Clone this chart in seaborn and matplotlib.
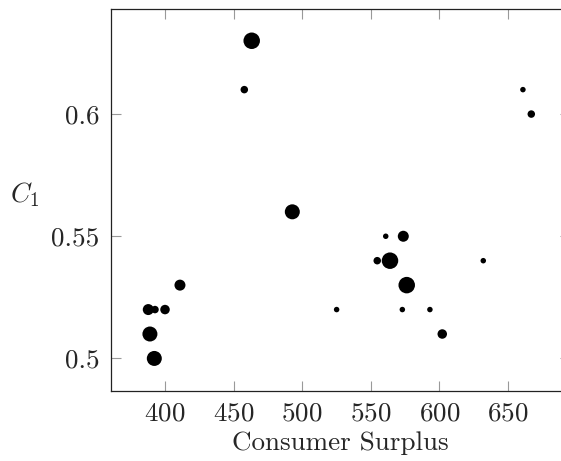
import numpy as np, pandas as pd
import matplotlib as mpl; mpl.use("Agg")
import matplotlib.pyplot as plt
import seaborn as sns
from matplotlib.ticker import FuncFormatter

# consumer surplus (x), C_1 (y) and point weight class (drawn as marker size)
surplus = [463.2, 457.8, 660.9, 667.0, 492.8, 560.9, 573.7, 554.7, 564.0, 632.0, 576.2,
           410.9, 387.8, 392.7, 400.0, 525.1, 573.0, 593.1, 389.0, 602.1, 392.2]
c1 = [0.63, 0.61, 0.61, 0.60, 0.56, 0.55, 0.55, 0.54, 0.54, 0.54, 0.53,
      0.53, 0.52, 0.52, 0.52, 0.52, 0.52, 0.52, 0.51, 0.51, 0.50]
weight = [6, 2, 1, 2, 5, 1, 4, 2, 6, 1, 6,
          4, 4, 2, 3, 1, 1, 1, 5, 3, 5]
xticks = [400, 450, 500, 550, 600, 650]
yticks = [0.5, 0.55, 0.6]

# marker diameter in px per weight class -> area in pt^2
DIAM = {1: 5.5, 2: 7.5, 3: 9.5, 4: 11.0, 5: 15.0, 6: 16.5}
SIZES = {k: (0.72 * d) ** 2 for k, d in DIAM.items()}

sns.set_theme(style="ticks")
mpl.rcParams.update({"font.family": "serif", "font.serif": ["cmr10"], "mathtext.fontset": "cm",
                     "axes.formatter.use_mathtext": True, "font.size": 19.5,
                     "axes.unicode_minus": False})

df = pd.DataFrame({"surplus": surplus, "c1": c1, "w": weight})
fig = plt.figure(figsize=(5.61, 4.61), dpi=100)
# right border of the axes sits just outside the picture, as in the original crop
ax = fig.add_axes([0.1973, 0.1525, 0.8187, 0.828])
sns.scatterplot(data=df, x="surplus", y="c1", size="w", sizes=SIZES, color="black",
                linewidth=0, legend=False, ax=ax)
ax.set_xlim(360.4, 695.2); ax.set_ylim(0.4868, 0.643)
ax.set_xticks(xticks); ax.set_yticks(yticks)
ax.yaxis.set_major_formatter(FuncFormatter(lambda v, p: f"{v:g}"))
ax.tick_params(direction="in", length=7, width=0.8, color="#999999", top=True, right=True,
               labelsize=19.5, pad=8)
for s in ax.spines.values(): s.set_linewidth(0.9); s.set_color("#222222")
ax.set_xlabel("Consumer Surplus", fontsize=19.5, labelpad=4)
ax.set_ylabel("$C_1$", fontsize=19.5, rotation=0)
ax.yaxis.set_label_coords(-0.188, 0.476)
fig.savefig("out.png", dpi=100)
